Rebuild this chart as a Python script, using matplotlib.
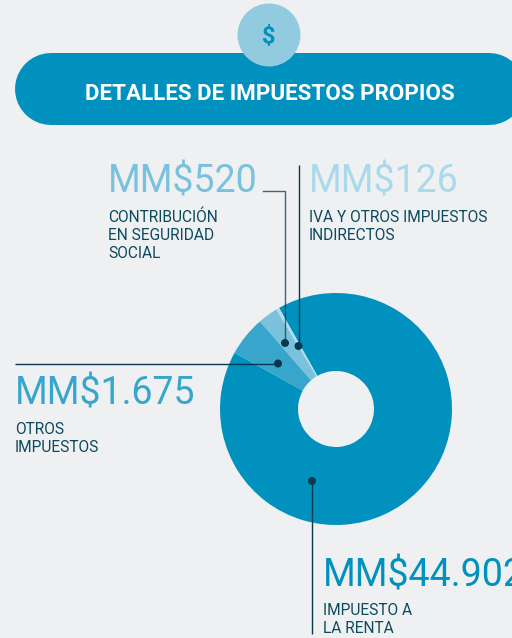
import matplotlib
matplotlib.use("Agg")
import matplotlib.pyplot as plt
from matplotlib.patches import Circle

W, H = 512, 638
BG = "#EFF0F2"
BLUE = "#0091BE"
DARK = "#0C4A5E"
DOT = "#06394D"

title = "DETALLES DE IMPUESTOS PROPIOS"
icon = "$"
amounts = ["MM$44.902", "MM$126", "MM$520", "MM$1.675"]
descriptions = ["IMPUESTO A\nLA RENTA", "IVA Y OTROS IMPUESTOS\nINDIRECTOS",
                "CONTRIBUCIÓN\nEN SEGURIDAD\nSOCIAL", "OTROS\nIMPUESTOS"]
# slice sizes as drawn in the picture (degrees of the ring)
slice_sizes = [328.4, 1.6, 10.0, 20.0]
slice_colors = ["#0091BE", "#B5DDEE", "#79C1DC", "#38A6CC"]
amount_colors = ["#0091BE", "#AAD9EC", "#79C1DC", "#38A6CC"]

plt.rcParams["font.family"] = ["Roboto", "DejaVu Sans"]
fig = plt.figure(figsize=(W / 100, H / 100), dpi=100, facecolor=BG)
ax = fig.add_axes([0, 0, 1, 1])
Y = lambda py: H - py

# ring
ax.pie(slice_sizes, colors=slice_colors, center=(336, Y(409)), radius=116, startangle=151,
       counterclock=True, wedgeprops=dict(width=78, linewidth=0), frame=True)
ax.set_xlim(0, W); ax.set_ylim(0, H); ax.set_aspect("auto"); ax.axis("off")

# header: a thick line with round caps gives the pill shape
ax.plot([51, 489], [Y(89), Y(89)], color=BLUE, lw=72 * 0.72, solid_capstyle="round", zorder=1)
ax.add_patch(Circle((269, Y(35)), 31.5, fc="#92CAE0", ec="none", zorder=2))
ax.text(269, Y(43), icon, color=BLUE, fontsize=17, fontweight="bold", ha="center", va="baseline", zorder=3)
ax.text(269.5, Y(100), title, color="white", fontsize=16.15, fontweight="bold", ha="center", va="baseline", zorder=3)

# leader lines
ld = dict(color=DOT, lw=1.0, zorder=5, solid_capstyle="butt")
ax.plot([312, 312], [Y(481), Y(634)], **ld)
ax.plot([15, 278], [Y(363.5), Y(363.5)], **ld)
ax.plot([263, 285, 285], [Y(190.5), Y(190.5), Y(343)], color=DOT, lw=1.0, alpha=.75, zorder=5)
ax.plot([298.5, 298.5], [Y(165), Y(345)], **ld)
for x, y in [(312, 481), (278, 363.5), (285, 343), (298.5, 346)]:
    ax.add_patch(Circle((x, Y(y)), 4, fc=DOT, ec="none", zorder=6))

# labels: x, amount baseline, last-line baseline of the description
positions = [(323, 586, 633), (309, 192, 240), (108, 192, 258), (15, 405, 452)]
for amt, desc, col, (x, ay, dy) in zip(amounts, descriptions, amount_colors, positions):
    ax.text(x, Y(ay), amt, color=col, fontsize=27.0, ha="left", va="baseline", zorder=7)
    ax.text(x, Y(dy), desc, color=DARK, fontsize=11.2, ha="left", va="baseline", linespacing=1.27, zorder=7)

fig.savefig("out.png", dpi=100, facecolor=BG)
